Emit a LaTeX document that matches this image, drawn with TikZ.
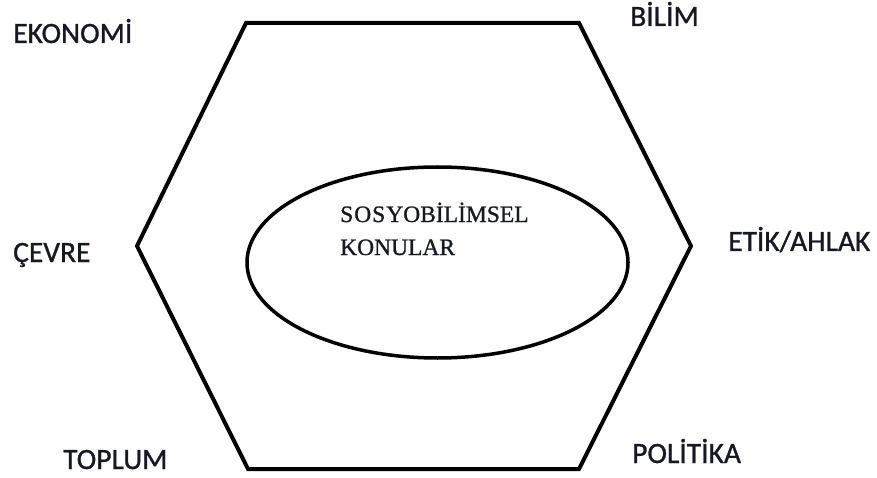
\documentclass[tikz,border=0pt]{standalone}
\usepackage{fontspec}
\usetikzlibrary{shapes.geometric}
\setmainfont{Liberation Serif}
\newfontfamily\lblfont[FakeBold=1]{Carlito}
\newfontfamily\centerfont[FakeBold=1]{Liberation Serif}
\definecolor{lbl}{RGB}{22,24,36}
\begin{document}
\begin{tikzpicture}[x=1pt,y=-1pt,
  lab/.style={anchor=base west,inner sep=0pt,font=\lblfont\fontsize{29.5}{34}\selectfont,text=lbl},
  shapeline/.style={draw=black,line width=4pt,line join=miter}]
\useasboundingbox (0,0) rectangle (877,478);
\coordinate (tl) at (246,23);
\coordinate (tr) at (579,23);
\coordinate (r) at (691,246);
\coordinate (br) at (579,469);
\coordinate (bl) at (248,469);
\coordinate (l) at (137,246);
\draw[shapeline] (tl) -- (tr) -- (r) -- (br) -- (bl) -- (l) -- cycle;
\node[shapeline,ellipse,minimum width=381pt,minimum height=191pt,inner sep=0pt,line width=3.5pt] (ell) at (437.5,262.5) {};
\node[anchor=base west,inner sep=0pt,align=left,font=\centerfont\fontsize{23.5}{33}\selectfont,text=lbl] (txt) at (340,255) {S\kern1ptO\kern1ptS\kern1ptYOBİLİMSEL\\KONULAR};
\node[lab] (eko) at (13,43) {EKONOMİ};
\node[lab] (bil) at (630,26) {BİLİM};
\node[lab] (cev) at (13,262) {ÇEVRE};
\node[lab] (etik) at (728,251) {ETİK/AHLAK};
\node[lab] (top) at (63,469) {TOPLUM};
\node[lab] (pol) at (632,463) {POLİTİKA};
\end{tikzpicture}
\end{document}
